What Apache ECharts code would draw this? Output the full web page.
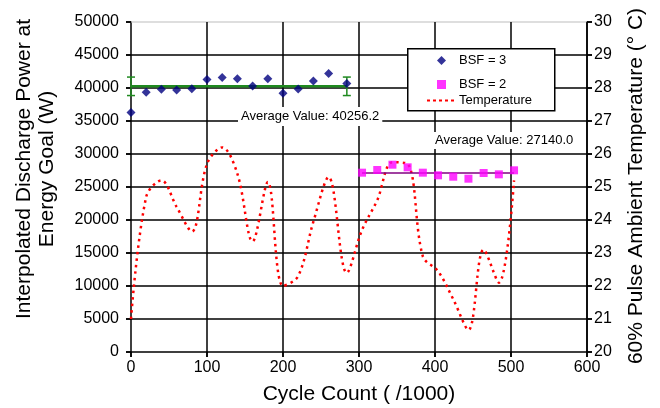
<!DOCTYPE html>
<html><head><meta charset="utf-8">
<script src="https://cdn.jsdelivr.net/npm/echarts@6/dist/echarts.min.js"></script>
<style>html,body{margin:0;padding:0;background:#fff}#c{width:660px;height:408px}</style>
</head><body><div id="c"></div>
<script>
// ---- data ----
const cycleBSF3 = [0,20,40,60,80,100,120,140,160,180,200,220,240,260,284];
const powerBSF3 = [36300,39350,39800,39700,39900,41300,41600,41400,40300,41400,39200,39850,41050,42200,40700];
const cycleBSF2 = [304,324,344,364,384,404,424,444,464,484,504];
const powerBSF2 = [27170,27580,28380,27980,27170,26770,26560,26260,27120,26920,27530];
const cycleTemp = [0,20,40,60,80,100,120,140,160,180,200,220,240,260,284,304,324,344,364,384,404,424,444,464,484,504];
const temperature = [21.0,24.7,25.2,24.4,23.65,25.7,26.2,25.4,23.35,25.15,22.0,22.3,23.95,25.3,22.4,23.7,24.6,25.75,25.7,22.9,22.45,21.6,20.67,23.1,22.1,25.2];
const avgBSF3 = 40256.2;
const avgBSF3Range = [0, 284];
const avgBSF2 = 27140.0;
const avgBSF2Range = [304, 504];
const errBSF3 = 1400;            // half-height of the error bars on the BSF=3 average
const xTicks = [0, 600, 100];    // min, max, step
const powerTicks = [0, 50000, 5000];
const tempTicks = [20, 30, 1];
const avgLabels = ['Average Value: 40256.2', 'Average Value: 27140.0'];
const legendNames = ['BSF = 3', 'BSF = 2', 'Temperature'];

const FONT = 'Liberation Sans, Arial, sans-serif';
const zip = (a, b) => a.map((v, i) => [v, b[i]]);
const range = t => { const r = []; for (let v = t[0]; v <= t[1] + 1e-9; v += t[2]) r.push(v); return r; };
const errData = avgBSF3Range.map(x => [x, avgBSF3 - errBSF3, avgBSF3 + errBSF3]);
const dashIcon = 'path://M0,0H3V2H0Z M6,0H9V2H6Z M12,0H15V2H12Z M18,0H21V2H18Z M24,0H27V2H24Z';
// grid rows: [kind, value]  kind 0 = power tick (horizontal), 1 = cycle tick (vertical)
const gridRows = range(powerTicks).map(v => [0, v]).concat(range(xTicks).map(v => [1, v]));
const tempRows = range(tempTicks).map(v => [0, v]);

const BLK = {stroke: '#000', lineWidth: 1.5};
const GRY = {stroke: '#bdbdbd', lineWidth: 1.2};
const ax = () => ({
  axisLine: {show: true, onZero: false, lineStyle: {color: '#000', width: 1.5}},
  axisTick: {show: true, inside: false, length: 5, lineStyle: {color: '#000', width: 1.5}}
});

const option = {
  animation: false,
  backgroundColor: '#fff',
  grid: {left: 131, right: 73, top: 22, bottom: 56},
  xAxis: Object.assign({
    type: 'value', min: xTicks[0], max: xTicks[1], interval: xTicks[2],
    axisLabel: {color: '#000', fontSize: 16, fontFamily: FONT, margin: 8},
    splitLine: {show: false}
  }, ax()),
  yAxis: [Object.assign({
    type: 'value', position: 'left', min: powerTicks[0], max: powerTicks[1], interval: powerTicks[2],
    axisLabel: {color: '#000', fontSize: 16, fontFamily: FONT, margin: 12, formatter: v => String(v)},
    splitLine: {show: false}
  }, ax()), Object.assign({
    type: 'value', position: 'right', min: tempTicks[0], max: tempTicks[1], interval: tempTicks[2],
    axisLabel: {color: '#000', fontSize: 16, fontFamily: FONT, margin: 7, formatter: v => String(v)},
    splitLine: {show: false}
  }, ax())],
  legend: [{
    orient: 'vertical', left: 437, top: 54, padding: 0, z: 30,
    itemGap: 11, itemWidth: 9, itemHeight: 9, symbolKeepAspect: true,
    textStyle: {color: '#000', fontSize: 13, fontFamily: FONT, padding: [0, 0, 0, 8]},
    data: [{name: legendNames[0], icon: 'diamond'}, {name: legendNames[1], icon: 'rect'}],
    selectedMode: false
  }, {
    orient: 'vertical', left: 427, top: 94, padding: 0, z: 30,
    itemWidth: 27, itemHeight: 2,
    textStyle: {color: '#000', fontSize: 13, fontFamily: FONT},
    data: [{name: legendNames[2], icon: dashIcon}],
    selectedMode: false
  }],
  series: [
    {
      name: 'gridlines', type: 'custom', z: 1, silent: true, clip: false, data: gridRows,
      renderItem: (params, api) => {
        const cs = params.coordSys, kind = api.value(0), v = api.value(1);
        const ch = [];
        if (kind === 0) {
          const y = api.coord([xTicks[0], v])[1];
          ch.push({type: 'line', shape: {x1: cs.x - 5, y1: y, x2: cs.x, y2: y}, style: BLK});
          if (v > powerTicks[0]) ch.push({type: 'line', shape: {x1: cs.x, y1: y, x2: cs.x + cs.width, y2: y}, style: v >= powerTicks[1] ? GRY : BLK});
        } else {
          const x = api.coord([v, powerTicks[0]])[0];
          ch.push({type: 'line', shape: {x1: x, y1: cs.y + cs.height, x2: x, y2: cs.y + cs.height + 5}, style: BLK});
          if (v > xTicks[0]) ch.push({type: 'line', shape: {x1: x, y1: cs.y, x2: x, y2: cs.y + cs.height}, style: BLK});
        }
        return {type: 'group', children: ch};
      }
    },
    {
      name: 'tempticks', type: 'custom', yAxisIndex: 1, z: 1, silent: true, clip: false, data: tempRows,
      renderItem: (params, api) => {
        const cs = params.coordSys;
        const y = api.coord([xTicks[0], api.value(1)])[1];
        const xr = cs.x + cs.width;
        return {type: 'line', shape: {x1: xr, y1: y, x2: xr + 5, y2: y}, style: BLK};
      }
    },
    {
      name: legendNames[2], type: 'line', yAxisIndex: 1,
      data: zip(cycleTemp, temperature), smooth: 0.35, symbol: 'none', showSymbol: false,
      lineStyle: {color: '#ff0000', width: 2.5, type: [2.5, 4]},
      itemStyle: {color: '#ff0000'}, z: 3
    },
    {
      name: 'avg3', type: 'line', data: avgBSF3Range.map(x => [x, avgBSF3]),
      symbol: 'none', lineStyle: {color: '#1f8a1f', width: 2.5}, z: 4, silent: true
    },
    {
      name: 'avg2', type: 'line', data: avgBSF2Range.map(x => [x, avgBSF2]),
      symbol: 'none', lineStyle: {color: '#800080', width: 1.5}, z: 4, silent: true
    },
    {
      name: 'err3', type: 'custom', z: 5, data: errData,
      renderItem: (params, api) => {
        const x = api.value(0);
        const p1 = api.coord([x, api.value(1)]), p2 = api.coord([x, api.value(2)]);
        const w = 4, st = {stroke: '#1f8a1f', lineWidth: 1.5};
        return {type: 'group', children: [
          {type: 'line', shape: {x1: p1[0], y1: p1[1], x2: p2[0], y2: p2[1]}, style: st},
          {type: 'line', shape: {x1: p1[0] - w, y1: p1[1], x2: p1[0] + w, y2: p1[1]}, style: st},
          {type: 'line', shape: {x1: p2[0] - w, y1: p2[1], x2: p2[0] + w, y2: p2[1]}, style: st}
        ]};
      }
    },
    {
      name: legendNames[0], type: 'scatter', data: zip(cycleBSF3, powerBSF3),
      symbol: 'diamond', symbolSize: 9, itemStyle: {color: '#00007f'}, z: 6
    },
    {
      name: legendNames[1], type: 'scatter', data: zip(cycleBSF2, powerBSF2),
      symbol: 'rect', symbolSize: 8, itemStyle: {color: '#ff00ff'}, z: 6
    }
  ],
  graphic: [
    {type: 'rect', left: 407, top: 48, z: 20, silent: true,
      shape: {width: 147, height: 62}, style: {fill: '#fff', stroke: '#000', lineWidth: 1.5}},
    {type: 'text', left: 238, top: 107, z: 50,
      style: {text: avgLabels[0], fontSize: 13, fontFamily: FONT, fill: '#000', backgroundColor: '#fff', padding: [3, 3, 3, 3]}},
    {type: 'text', left: 432, top: 132, z: 50,
      style: {text: avgLabels[1], fontSize: 13, fontFamily: FONT, fill: '#000', backgroundColor: '#fff', padding: [2, 3, 2, 3]}},
    {type: 'text', x: 359, y: 394, z: 50,
      style: {text: 'Cycle Count ( /1000)', fontSize: 21, fontFamily: FONT, fill: '#000', align: 'center', verticalAlign: 'middle'}},
    {type: 'text', x: 36, y: 169, rotation: Math.PI / 2, z: 50,
      style: {text: 'Interpolated Discharge Power at\nEnergy Goal (W)', fontSize: 21, lineHeight: 23, fontFamily: FONT, fill: '#000', align: 'center', verticalAlign: 'middle'}},
    {type: 'text', x: 636, y: 186, rotation: Math.PI / 2, z: 50,
      style: {text: '60% Pulse Ambient Temperature (° C)', fontSize: 21, fontFamily: FONT, fill: '#000', align: 'center', verticalAlign: 'middle'}}
  ]
};

const chart = echarts.init(document.getElementById('c'), null, {renderer: 'canvas'});
chart.setOption(option);
</script>
</body></html>
